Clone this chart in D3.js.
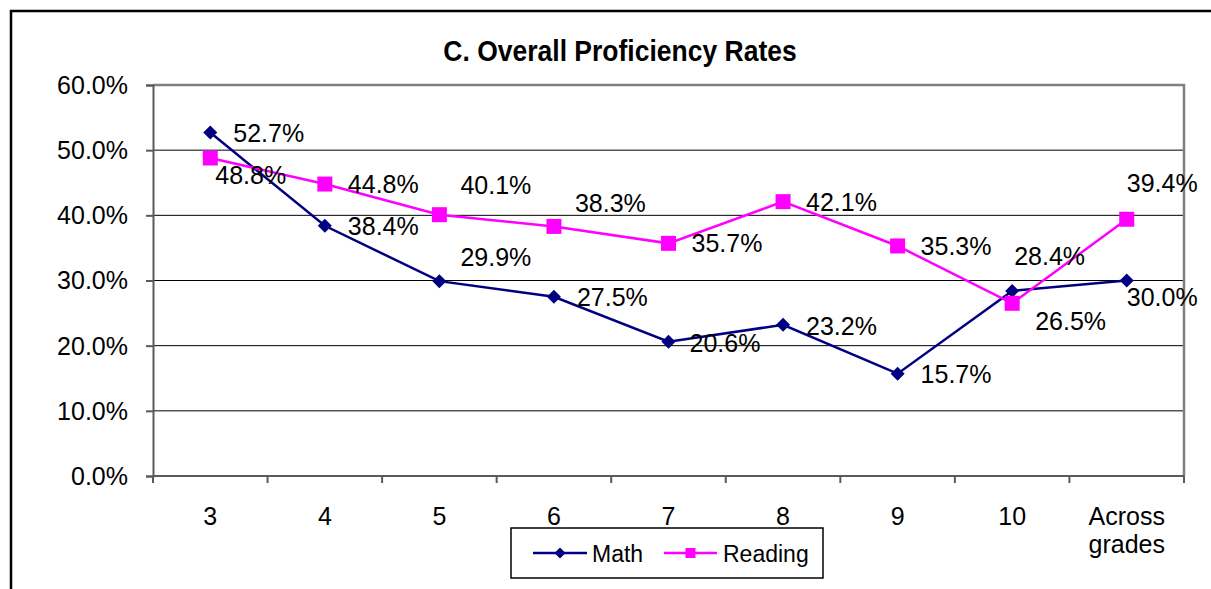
<!DOCTYPE html>
<html>
<head>
<meta charset="utf-8">
<script src="https://cdn.jsdelivr.net/npm/d3@7"></script>
<style>
  html, body { margin: 0; padding: 0; background: #fff; }
  svg { display: block; font-family: "Liberation Sans", Arial, sans-serif; }
</style>
</head>
<body>
<div id="chart"></div>
<script>
// Chart data
const categories = ["3", "4", "5", "6", "7", "8", "9", "10", "Across grades"];
const mathValues = [52.7, 38.4, 29.9, 27.5, 20.6, 23.2, 15.7, 28.4, 30.0];
const readingValues = [48.8, 44.8, 40.1, 38.3, 35.7, 42.1, 35.3, 26.5, 39.4];
const yTicks = [0, 10, 20, 30, 40, 50, 60];

// Data label placement (dx from point to text start, dy from point to text middle)
const mathLabelOffsets = [[23, 0], [23, 0], [21, -24], [23, 0], [21, 1], [23, 1], [23, 0], [2, -35], [0, 17]];
const readingLabelOffsets = [[5, 17], [23, 0], [21, -30], [21, -23], [23, 0], [23, 0], [23, 0], [23, 18], [0, -36]];

const W = 1211, H = 589;
const plot = { left: 153, right: 1184, top: 85, bottom: 476 };
const labelSize = 25;

const svg = d3.select("#chart").append("svg")
  .attr("width", W)
  .attr("height", H);

svg.append("rect").attr("width", W).attr("height", H).attr("fill", "#fff");

// outer chart border
svg.append("rect")
  .attr("x", 11).attr("y", 11)
  .attr("width", 1230).attr("height", 620)
  .attr("fill", "none")
  .attr("stroke", "#000")
  .attr("stroke-width", 2.5);

const x = d3.scaleBand().domain(categories).range([plot.left, plot.right]);
const y = d3.scaleLinear().domain([0, 60]).range([plot.bottom, plot.top]);
const cx = (d) => x(d) + x.bandwidth() / 2;

// helper for text (optionally stretched vertically)
function addText(g, tx, ty, str, size, opts = {}) {
  return g.append("text")
    .attr("transform", `translate(${tx},${ty}) scale(1,${opts.sy || 1})`)
    .attr("text-anchor", opts.anchor || "start")
    .attr("font-size", size + "px")
    .attr("font-weight", opts.weight || "normal")
    .attr("fill", "#000")
    .text(str);
}

// gridlines
svg.append("g")
  .selectAll("line")
  .data(yTicks.filter((t) => t > 0 && t < 60))
  .enter()
  .append("line")
  .attr("x1", plot.left).attr("x2", plot.right)
  .attr("y1", (d) => y(d)).attr("y2", (d) => y(d))
  .attr("stroke", "#000")
  .attr("stroke-width", 1);

// plot area border (top & right)
svg.append("path")
  .attr("d", `M${plot.left},${plot.top}H${plot.right}V${plot.bottom}`)
  .attr("fill", "none")
  .attr("stroke", "#808080")
  .attr("stroke-width", 2.5);

// y axis
const yAxisG = svg.append("g").attr("transform", `translate(${plot.left},0)`)
  .call(d3.axisLeft(y).tickValues(yTicks).tickSize(7).tickFormat(""));
yAxisG.selectAll("path, line").attr("stroke", "#5a5a5a").attr("stroke-width", 2);

const capMid = labelSize * 0.716 / 2;
yTicks.forEach((t) => {
  addText(svg, 128, y(t) + capMid, d3.format(".1f")(t) + "%", labelSize, { anchor: "end" });
});

// x axis (ticks at category boundaries)
const boundaries = categories.map((c) => x(c)).concat([plot.right]);
svg.append("line")
  .attr("x1", plot.left).attr("x2", plot.right)
  .attr("y1", plot.bottom).attr("y2", plot.bottom)
  .attr("stroke", "#5a5a5a").attr("stroke-width", 2);
svg.append("g")
  .selectAll("line")
  .data(boundaries)
  .enter()
  .append("line")
  .attr("x1", (d) => d).attr("x2", (d) => d)
  .attr("y1", plot.bottom).attr("y2", plot.bottom + 7)
  .attr("stroke", "#5a5a5a").attr("stroke-width", 2);

categories.forEach((c) => {
  const words = c.split(" ");
  words.forEach((w, i) => {
    addText(svg, cx(c), 525 + i * 28, w, 25, { anchor: "middle" });
  });
});

// title
addText(svg, 620, 60.5, "C. Overall Proficiency Rates", 26.5, { anchor: "middle", weight: "bold", sy: 1.1 });

// series
const series = [
  { name: "Math", values: mathValues, color: "#000080", marker: "diamond", offsets: mathLabelOffsets },
  { name: "Reading", values: readingValues, color: "#FF00FF", marker: "square", offsets: readingLabelOffsets },
];

const line = d3.line()
  .x((d, i) => cx(categories[i]))
  .y((d) => y(d));

function markerPath(type, s) {
  if (type === "diamond") return `M0,${-s}L${s},0L0,${s}L${-s},0Z`;
  return `M${-s},${-s}H${s}V${s}H${-s}Z`;
}

series.forEach((s) => {
  svg.append("path")
    .datum(s.values)
    .attr("d", line)
    .attr("fill", "none")
    .attr("stroke", s.color)
    .attr("stroke-width", 2.5);

  svg.append("g")
    .selectAll("path")
    .data(s.values)
    .enter()
    .append("path")
    .attr("transform", (d, i) => `translate(${cx(categories[i])},${y(d)})`)
    .attr("d", markerPath(s.marker, s.marker === "diamond" ? 7 : 7.5))
    .attr("fill", s.color);
});

// data labels (drawn after both lines so they sit on top)
series.forEach((s) => {
  s.values.forEach((v, i) => {
    const [dx, dy] = s.offsets[i];
    addText(svg, cx(categories[i]) + dx, y(v) + dy + capMid, d3.format(".1f")(v) + "%", labelSize);
  });
});

// legend
const legend = svg.append("g");
legend.append("rect")
  .attr("x", 511).attr("y", 528)
  .attr("width", 312).attr("height", 50)
  .attr("fill", "#fff")
  .attr("stroke", "#000")
  .attr("stroke-width", 1.5);

const legendItems = [
  { s: series[0], x0: 533, x1: 587, tx: 592 },
  { s: series[1], x0: 664, x1: 717, tx: 723 },
];
legendItems.forEach((it) => {
  legend.append("line")
    .attr("x1", it.x0).attr("x2", it.x1)
    .attr("y1", 553).attr("y2", 553)
    .attr("stroke", it.s.color)
    .attr("stroke-width", 2.5);
  legend.append("path")
    .attr("transform", `translate(${(it.x0 + it.x1) / 2},553)`)
    .attr("d", markerPath(it.s.marker, it.s.marker === "diamond" ? 5.5 : 5))
    .attr("fill", it.s.color);
  addText(legend, it.tx, 561.5, it.s.name, 23);
});
</script>
</body>
</html>
